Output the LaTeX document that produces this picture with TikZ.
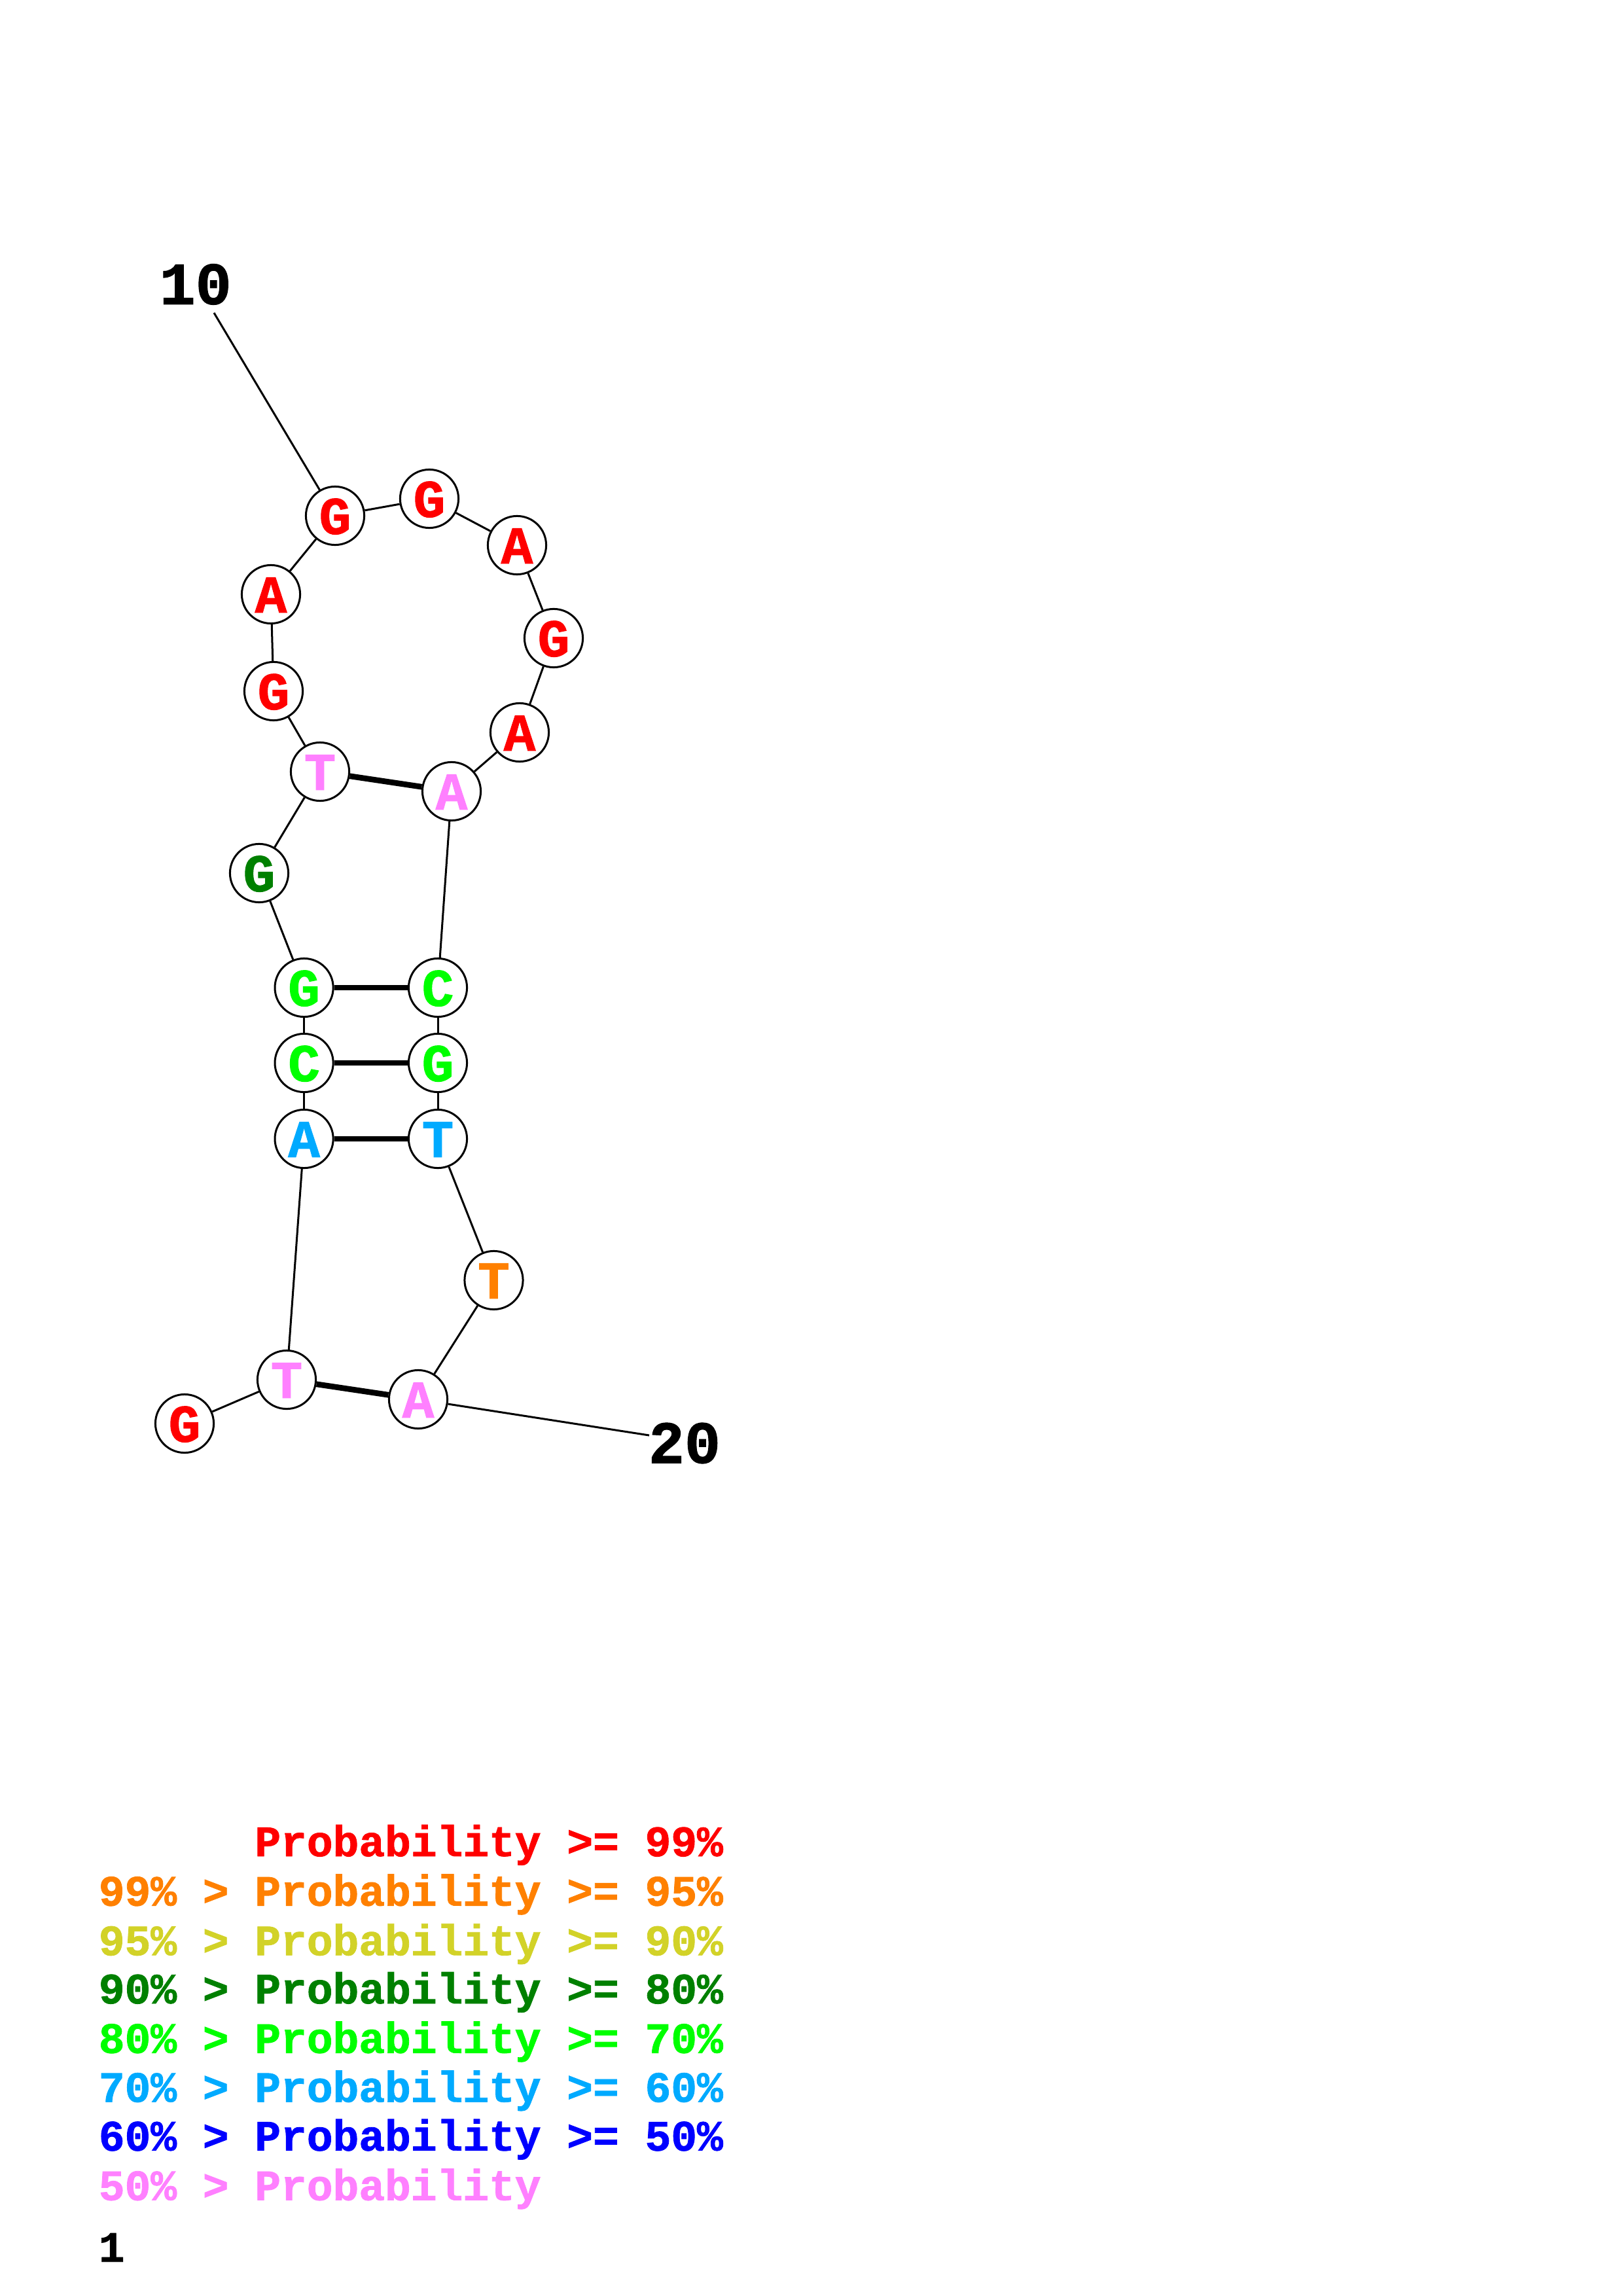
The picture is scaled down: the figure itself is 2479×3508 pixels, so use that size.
\documentclass[tikz,border=0pt]{standalone}
\usepackage{fontspec}
\newfontfamily\cour{Liberation Mono}[BoldFont={Liberation Mono Bold},BoldFeatures={FakeBold=1.2}]
\definecolor{pRed}{RGB}{255,0,0}
\definecolor{pOrange}{RGB}{255,128,0}
\definecolor{pYellow}{RGB}{210,210,40}
\definecolor{pDkGreen}{RGB}{0,128,0}
\definecolor{pGreen}{RGB}{0,255,0}
\definecolor{pLBlue}{RGB}{0,170,255}
\definecolor{pBlue}{RGB}{0,0,255}
\definecolor{pPink}{RGB}{255,128,255}
\tikzset{
  nt/.style={circle,draw=black,line width=0.72pt,fill=white,minimum size=21.4pt,inner sep=0pt,
    font=\cour\bfseries\fontsize{19.5}{19.5}\selectfont,text height=13.4pt,text depth=0pt},
  bb/.style={draw=black,line width=0.72pt},
  pr/.style={draw=black,line width=2.1pt},
  numlbl/.style={font=\cour\bfseries\fontsize{22}{22}\selectfont,inner sep=0pt},
  leg/.style={font=\cour\bfseries\fontsize{15.9}{15.9}\selectfont,inner sep=0pt,anchor=base west}
}
\begin{document}
\begin{tikzpicture}[x=0.24pt,y=-0.24pt]
\useasboundingbox[fill=white] (0,0) rectangle (2479,3508);
% nucleotides
\node[nt,text=pRed]     (n1)  at (282,2175) {G};
\node[nt,text=pPink]    (n2)  at (438,2108) {T};
\node[nt,text=pLBlue]   (n3)  at (464.6,1740) {A};
\node[nt,text=pGreen]   (n4)  at (464.6,1624) {C};
\node[nt,text=pGreen]   (n5)  at (464.6,1509) {G};
\node[nt,text=pDkGreen] (n6)  at (396,1334) {G};
\node[nt,text=pPink]    (n7)  at (489,1179) {T};
\node[nt,text=pRed]     (n8)  at (418,1056) {G};
\node[nt,text=pRed]     (n9)  at (414,908) {A};
\node[nt,text=pRed]     (n10) at (512,788) {G};
\node[nt,text=pRed]     (n11) at (656,762) {G};
\node[nt,text=pRed]     (n12) at (790,833) {A};
\node[nt,text=pRed]     (n13) at (846,975) {G};
\node[nt,text=pRed]     (n14) at (794,1119) {A};
\node[nt,text=pPink]    (n15) at (690,1209) {A};
\node[nt,text=pGreen]   (n16) at (669,1509) {C};
\node[nt,text=pGreen]   (n17) at (669,1624) {G};
\node[nt,text=pLBlue]   (n18) at (669,1740) {T};
\node[nt,text=pOrange]  (n19) at (754.5,1956) {T};
\node[nt,text=pPink]    (n20) at (639,2138) {A};
% number labels
\node[numlbl] (l10) at (298.7,434.5) {10};
\node[numlbl] (l20) at (1046,2205) {20};
\coordinate (e10) at (327,478);
\coordinate (e20) at (992,2193);
% backbone
\draw[bb] (n1) -- (n2);
\draw[bb] (n2) -- (n3);
\draw[bb] (n3) -- (n4);
\draw[bb] (n4) -- (n5);
\draw[bb] (n5) -- (n6);
\draw[bb] (n6) -- (n7);
\draw[bb] (n7) -- (n8);
\draw[bb] (n8) -- (n9);
\draw[bb] (n9) -- (n10);
\draw[bb] (n10) -- (n11);
\draw[bb] (n11) -- (n12);
\draw[bb] (n12) -- (n13);
\draw[bb] (n13) -- (n14);
\draw[bb] (n14) -- (n15);
\draw[bb] (n15) -- (n16);
\draw[bb] (n16) -- (n17);
\draw[bb] (n17) -- (n18);
\draw[bb] (n18) -- (n19);
\draw[bb] (n19) -- (n20);
\draw[bb] (n10) -- (e10);
\draw[bb] (n20) -- (e20);
% pairs
\draw[pr] (n2) -- (n20);
\draw[pr] (n3) -- (n18);
\draw[pr] (n4) -- (n17);
\draw[pr] (n5) -- (n16);
\draw[pr] (n7) -- (n15);
% legend
\node[leg,text=pRed]     (g1) at (150,2836) {\phantom{99\% > }Probability >= 99\%};
\node[leg,text=pOrange]  (g2) at (150,2911.6) {99\% > Probability >= 95\%};
\node[leg,text=pYellow]  (g3) at (150,2987.3) {95\% > Probability >= 90\%};
\node[leg,text=pDkGreen] (g4) at (150,3061) {90\% > Probability >= 80\%};
\node[leg,text=pGreen]   (g5) at (150,3136.6) {80\% > Probability >= 70\%};
\node[leg,text=pLBlue]   (g6) at (150,3211.4) {70\% > Probability >= 60\%};
\node[leg,text=pBlue]    (g7) at (150,3285.8) {60\% > Probability >= 50\%};
\node[leg,text=pPink]    (g8) at (150,3361.5) {50\% > Probability};
\node[leg,text=black]    (g9) at (150,3455.7) {1};
\end{tikzpicture}
\end{document}
